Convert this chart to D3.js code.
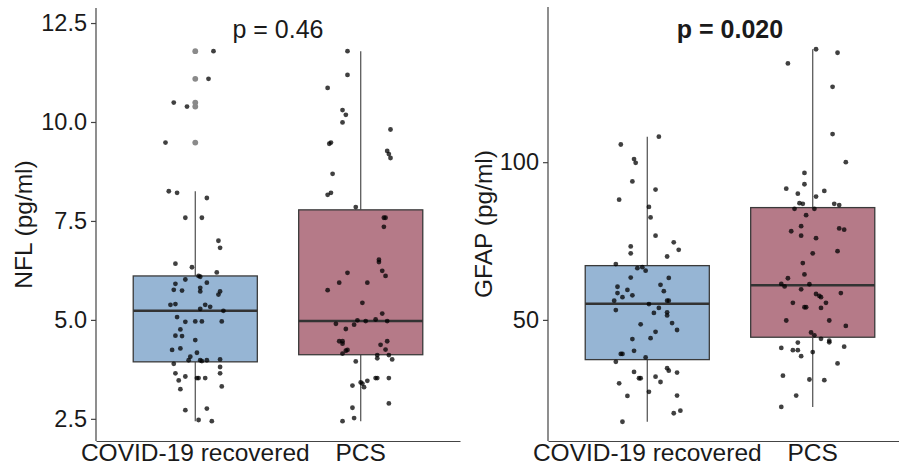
<!DOCTYPE html>
<html>
<head>
<meta charset="utf-8">
<script src="https://cdn.jsdelivr.net/npm/d3@7"></script>
<style>
  body { margin: 0; background: #fff; }
  svg text { font-family: "Liberation Sans", Arial, sans-serif; fill: #1a1a1a; }
</style>
</head>
<body>
<div id="chart"></div>
<script>
const groups = ["COVID-19 recovered", "PCS"]
const groupColors = ["#96b5d4", "#b57a88"]

// [value, jitter offset in category units]
const nflRecovered = [
  [11.79, 0.11], [11.09, 0.08], [10.49, -0.13], [10.39, -0.05], [9.48, -0.18],
  [8.25, -0.16], [8.21, -0.11], [8.08, 0.07], [7.58, -0.06], [7.58, 0.04],
  [7.00, 0.14], [6.82, 0.15], [6.42, -0.12], [6.33, -0.02], [6.20, 0.13],
  [6.11, 0.02], [6.09, 0.03], [6.02, -0.06], [5.94, 0.07], [5.91, -0.12],
  [5.81, 0.03], [5.76, -0.13], [5.74, -0.08], [5.72, 0.03], [5.72, 0.15],
  [5.64, 0.14], [5.38, -0.15], [5.40, -0.12], [5.38, 0.06], [5.33, 0.09],
  [5.28, 0.03], [5.23, 0.17], [5.07, -0.11], [4.95, -0.06], [4.96, 0.00],
  [4.96, 0.04], [4.96, 0.16], [4.76, -0.09], [4.60, -0.12], [4.59, -0.08],
  [4.49, 0.00], [4.24, -0.14], [4.28, -0.09], [4.17, 0.01], [4.07, -0.03],
  [3.98, -0.04], [3.98, 0.03], [3.96, 0.04], [3.98, 0.07], [4.00, 0.15],
  [3.89, -0.13], [3.81, 0.15], [3.65, -0.12], [3.65, 0.15], [3.57, -0.06],
  [3.53, 0.01], [3.53, 0.02], [3.53, 0.06], [3.47, -0.10], [3.25, -0.09],
  [3.32, 0.16], [2.72, -0.06], [2.76, 0.07], [2.47, 0.02], [2.44, 0.10]
]
const nflPcs = [
  [11.79, -0.08], [11.19, -0.08], [10.86, -0.20], [10.30, -0.11], [10.18, -0.09],
  [9.99, -0.11], [9.81, 0.18], [9.48, -0.18], [9.45, -0.19], [9.27, 0.16],
  [9.19, 0.17], [9.09, 0.18], [8.69, -0.17], [8.16, -0.20], [8.21, -0.18],
  [7.85, -0.03], [7.58, 0.15], [7.58, 0.14], [7.35, 0.14], [6.52, 0.11],
  [6.46, 0.11], [6.24, 0.13], [6.11, 0.15], [6.19, -0.08], [5.94, -0.13],
  [5.94, 0.04], [5.75, -0.20], [5.43, 0.01], [5.16, 0.13], [5.01, 0.09],
  [4.97, 0.16], [4.97, 0.03], [4.99, -0.02], [4.88, -0.04], [4.90, -0.15],
  [4.77, -0.09], [4.46, -0.13], [4.46, -0.11], [4.40, -0.11], [4.46, 0.16],
  [4.37, 0.12], [4.25, 0.15], [4.24, -0.08], [4.22, -0.09], [4.15, -0.11],
  [4.11, 0.10], [4.11, 0.17], [4.03, 0.10], [4.00, 0.19], [3.95, -0.03],
  [3.53, 0.09], [3.53, 0.10], [3.53, 0.17], [3.46, 0.04], [3.42, 0.00],
  [3.39, 0.01], [3.34, -0.05], [3.30, 0.02], [2.89, 0.17], [2.78, -0.05],
  [2.52, -0.04], [2.44, -0.11]
]
const gfapRecovered = [
  [108.1, 0.07], [105.6, -0.16], [101.0, -0.08], [99.8, -0.07], [93.9, -0.09],
  [91.3, 0.05], [88.1, -0.17], [85.8, 0.01], [82.5, 0.02], [76.7, 0.05],
  [74.6, 0.16], [73.3, -0.10], [72.2, 0.19], [71.1, -0.10], [70.1, 0.12],
  [67.7, -0.19], [66.4, -0.06], [66.7, -0.03], [65.6, -0.01], [63.4, -0.10],
  [63.3, 0.13], [61.1, 0.08], [60.5, -0.18], [59.5, -0.12], [59.1, 0.10],
  [58.5, -0.18], [57.2, -0.15], [57.8, -0.09], [56.1, -0.20], [56.1, 0.12],
  [56.1, 0.13], [55.0, 0.01], [53.8, 0.07], [53.1, -0.19], [52.2, 0.04],
  [52.4, 0.12], [51.4, 0.12], [48.6, -0.04], [49.0, 0.15], [46.8, 0.18],
  [46.2, 0.05], [43.9, -0.09], [44.2, 0.02], [40.2, -0.08], [39.2, -0.16],
  [39.2, -0.15], [38.1, -0.01], [36.7, -0.19], [33.5, -0.08], [31.5, -0.05],
  [31.5, -0.04], [34.7, 0.12], [33.9, 0.13], [33.3, 0.18], [32.0, 0.05],
  [29.9, -0.17], [30.3, 0.08], [27.2, 0.01], [25.9, -0.12], [26.0, 0.18],
  [20.4, 0.16], [21.2, 0.20], [17.7, -0.15]
]
const gfapPcs = [
  [135.8, 0.02], [134.7, 0.15], [131.3, -0.15], [123.9, 0.12], [108.9, 0.12],
  [100.0, 0.20], [96.6, -0.05], [93.0, -0.05], [91.6, -0.16], [90.0, -0.09],
  [90.9, 0.07], [89.1, 0.02], [87.0, -0.08], [86.8, -0.06], [86.8, 0.13],
  [86.4, 0.16], [85.2, -0.11], [85.2, 0.01], [83.2, -0.04], [79.7, -0.07],
  [78.1, -0.13], [79.0, 0.16], [78.6, 0.19], [76.7, -0.07], [75.9, 0.02],
  [71.8, 0.15], [71.1, 0.00], [68.0, -0.06], [64.4, -0.05], [63.2, -0.15],
  [61.4, -0.19], [60.6, -0.17], [61.3, -0.02], [59.7, -0.07], [58.2, 0.02],
  [57.6, 0.04], [57.2, 0.05], [58.5, 0.17], [55.4, -0.12], [55.4, 0.08],
  [54.0, -0.05], [54.0, -0.04], [53.8, 0.05], [49.8, -0.16], [49.8, 0.10],
  [48.1, 0.20], [46.0, -0.01], [45.1, 0.01], [44.0, 0.05], [43.4, 0.10],
  [42.9, 0.10], [42.8, -0.09], [41.1, -0.19], [40.4, -0.12], [40.4, -0.09],
  [39.8, 0.00], [38.5, -0.07], [41.5, 0.19], [36.2, 0.15], [32.3, -0.18],
  [31.1, -0.02], [30.9, 0.07], [26.0, -0.10], [22.4, -0.19]
]

// box stats: [lower whisker, q1, median, q3, upper whisker]
const nflStats = [[2.44, 3.94, 5.23, 6.11, 8.25], [2.44, 4.12, 4.97, 7.78, 11.79]]
const gfapStats = [[17.7, 37.4, 55.1, 67.2, 108.1], [22.4, 44.5, 61.0, 85.6, 135.8]]

const nflTicks = [2.5, 5.0, 7.5, 10.0, 12.5]
const gfapTicks = [50, 100]

const width = 899, height = 468

const svg = d3.select("#chart").append("svg")
  .attr("width", width)
  .attr("height", height)

function drawPanel(opt) {
  const x = d3.scaleLinear().domain([0.4, 2.6]).range([opt.left, opt.right])
  const y = d3.scaleLinear().domain(opt.yDomain).range([441, opt.top])
  const g = svg.append("g")
  const boxW = 0.75

  // boxes
  opt.stats.forEach((s, i) => {
    const cx = x(i + 1)
    const bw = x(1 + boxW) - x(1)
    g.append("line").attr("x1", cx).attr("x2", cx)
      .attr("y1", y(s[3])).attr("y2", y(s[4]))
      .attr("stroke", "#4d4d4d").attr("stroke-width", 1.2)
    g.append("line").attr("x1", cx).attr("x2", cx)
      .attr("y1", y(s[0])).attr("y2", y(s[1]))
      .attr("stroke", "#4d4d4d").attr("stroke-width", 1.2)
    g.append("rect")
      .attr("x", cx - bw / 2).attr("width", bw)
      .attr("y", y(s[3])).attr("height", y(s[1]) - y(s[3]))
      .attr("fill", groupColors[i])
      .attr("stroke", "#3a3a3a").attr("stroke-width", 1.3)
    g.append("line").attr("x1", cx - bw / 2).attr("x2", cx + bw / 2)
      .attr("y1", y(s[2])).attr("y2", y(s[2]))
      .attr("stroke", "#333").attr("stroke-width", 2.6)

    // outliers drawn by the boxplot
    g.selectAll(null)
      .data(opt.points[i].filter(d => d[0] > s[4] || d[0] < s[0]))
      .enter().append("circle")
      .attr("cx", cx).attr("cy", d => y(d[0]))
      .attr("r", 2.9).attr("fill", "#8a8a8a")
  })

  // jittered points
  opt.points.forEach((pts, i) => {
    g.selectAll(null).data(pts).enter().append("circle")
      .attr("cx", d => x(i + 1 + d[1]))
      .attr("cy", d => y(d[0]))
      .attr("r", 2.4)
      .attr("fill", "#000").attr("fill-opacity", 0.75)
  })

  // axes
  const yAxis = g.append("g").attr("transform", `translate(${opt.left},0)`)
    .call(d3.axisLeft(y).tickValues(opt.ticks).tickFormat(opt.fmt).tickSize(5).tickPadding(4))
  yAxis.select(".domain").attr("d", `M0,${opt.top}V441`)
  const xAxis = g.append("g").attr("transform", "translate(0,441)")
    .call(d3.axisBottom(x).tickValues([]).tickSizeOuter(0))
  g.selectAll(".domain").attr("stroke", "#444").attr("stroke-width", 1.2)
  yAxis.selectAll(".tick line").attr("stroke", "#444").attr("stroke-width", 1.2)
  yAxis.selectAll(".tick text").attr("fill", "#1a1a1a").style("font-size", "23.5px")

  groups.forEach((name, i) => {
    g.append("text")
      .attr("x", x(i + 1)).attr("y", 461)
      .attr("text-anchor", "middle")
      .style("font-size", "24.5px")
      .text(name)
  })

  g.append("text")
    .attr("transform", `translate(${opt.titleX},${(opt.top + 441) / 2}) rotate(-90)`)
    .attr("text-anchor", "middle")
    .style("font-size", "24.5px")
    .text(opt.yTitle)

  g.append("text")
    .attr("x", (opt.left + opt.right) / 2).attr("y", 38)
    .attr("text-anchor", "middle")
    .style("font-size", "25px")
    .style("font-weight", opt.bold ? "bold" : "normal")
    .text(opt.pText)
}

drawPanel({
  left: 96, right: 460, top: 8, yDomain: [1.94, 12.88],
  stats: nflStats, points: [nflRecovered, nflPcs],
  ticks: nflTicks, fmt: d3.format(".1f"),
  yTitle: "NFL (pg/ml)", titleX: 32, pText: "p = 0.46", bold: false
})

drawPanel({
  left: 548, right: 912, top: 7, yDomain: [11.6, 149.2],
  stats: gfapStats, points: [gfapRecovered, gfapPcs],
  ticks: gfapTicks, fmt: d3.format("d"),
  yTitle: "GFAP (pg/ml)", titleX: 492, pText: "p = 0.020", bold: true
})
</script>
</body>
</html>
